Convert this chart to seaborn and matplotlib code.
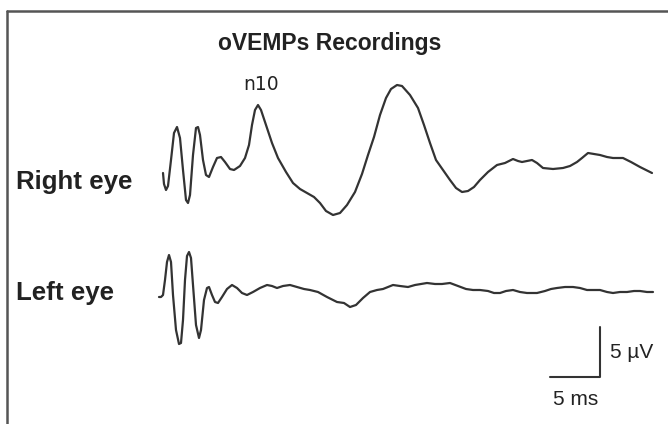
import numpy as np
import pandas as pd
import matplotlib
matplotlib.use("Agg")
import matplotlib.pyplot as plt
import seaborn as sns

# oVEMP traces: time in ms, amplitude in microvolts
right_t = [0.4, 0.5, 0.7, 0.9, 1.2, 1.5, 1.8, 2.1, 2.4, 2.7, 2.9, 3.1, 3.4, 3.7, 3.9, 4.1,
           4.4, 4.7, 5.0, 5.4, 5.8, 6.2, 6.6, 7.1, 7.5, 8.1, 8.6, 9.0, 9.3, 9.6, 9.9, 10.2,
           10.7, 11.3, 11.9, 12.7, 13.4, 14.1, 14.8, 15.5, 16.1, 16.7, 17.4, 18.1, 18.8, 19.6,
           20.3, 20.9, 21.5, 22.1, 22.7, 23.2, 23.8, 24.3, 25.1, 25.9, 26.5, 27.1, 27.7, 28.4,
           29.1, 29.7, 30.3, 30.9, 31.5, 32.1, 32.9, 33.8, 34.6, 35.4, 35.9, 36.3, 36.8, 37.3,
           37.8, 38.4, 39.4, 40.4, 41.1, 41.8, 42.3, 42.9, 43.5, 44.1, 44.8, 45.4, 46.4, 47.2,
           48.1, 48.7, 49.3]
right_v = [0, -1.1, -1.7, -1.3, 1.3, 4.0, 4.6, 3.5, 0.3, -2.7, -3.0, -2.2, 1.8, 4.5, 4.6, 3.8,
           1.3, -0.2, -0.4, 0.6, 1.5, 1.6, 1.1, 0.4, 0.3, 0.7, 1.5, 2.8, 4.8, 6.3, 6.8, 6.3,
           4.8, 3.0, 1.5, 0.1, -1.0, -1.6, -2.0, -2.4, -3.0, -3.8, -4.2, -4.0, -3.2, -1.9,
           -0.1, 1.8, 3.6, 5.8, 7.5, 8.4, 8.8, 8.7, 7.8, 6.5, 4.8, 3.0, 1.3, 0.3,
           -0.7, -1.5, -1.9, -1.8, -1.4, -0.7, 0.1, 0.8, 1.0, 1.4, 1.2, 1.1, 1.2, 1.3,
           1.0, 0.5, 0.4, 0.5, 0.7, 1.1, 1.5, 2.0, 1.9, 1.8, 1.6, 1.5, 1.5, 1.1,
           0.6, 0.3, 0]

left_t = [0, 0.2, 0.4, 0.6, 0.8, 1.0, 1.2, 1.4, 1.7, 2.0, 2.2, 2.4, 2.6, 2.8, 3.0, 3.2,
          3.4, 3.7, 4.0, 4.2, 4.5, 4.8, 5.0, 5.3, 5.6, 5.9, 6.3, 6.8, 7.3, 7.8, 8.3, 8.8,
          9.4, 10.1, 10.8, 11.3, 11.8, 12.4, 13.1, 13.8, 14.5, 15.1, 15.9, 16.8, 17.8, 18.5,
          19.1, 19.7, 20.4, 21.1, 21.8, 22.4, 22.9, 23.4, 24.1, 24.9, 25.6, 26.2, 26.8, 27.6,
          28.3, 29.1, 29.9, 30.7, 31.4, 32.1, 32.9, 33.5, 34.1, 34.7, 35.4, 36.1, 36.8, 37.8,
          38.6, 39.2, 39.8, 40.6, 41.4, 42.1, 42.8, 43.5, 44.1, 44.8, 45.4, 46.1, 46.8, 47.5,
          48.1, 48.8, 49.4]
left_v = [-0.5, -0.5, -0.3, 1.2, 3.0, 3.7, 3.0, -0.3, -3.8, -5.2, -5.1, -2.8, 1.2, 3.6, 4.0, 3.4,
          0.7, -3.3, -4.6, -3.8, -0.8, 0.4, 0.5, -0.3, -1.0, -1.1, -0.5, 0.3, 0.7, 0.4, -0.1, -0.3,
          0, 0.4, 0.7, 0.6, 0.4, 0.6, 0.7, 0.5, 0.3, 0.2, 0, -0.5, -1.0, -1.1,
          -1.5, -1.3, -0.6, 0, 0.2, 0.3, 0.5, 0.7, 0.6, 0.5, 0.7, 0.8, 0.9, 0.8,
          0.8, 0.9, 0.6, 0.3, 0.2, 0.2, 0.1, -0.1, -0.1, 0.1, 0.2, 0, -0.1, -0.1,
          0.1, 0.3, 0.4, 0.5, 0.5, 0.4, 0.2, 0.2, 0.2, 0, -0.1, 0, 0, 0.1,
          0.1, 0, 0]

eyes = ["Right eye", "Left eye"]
offsets = [11.9, 0]  # vertical stacking of the two traces, in uV

df = pd.concat([
    pd.DataFrame({"eye": eyes[0], "t": right_t, "v": np.array(right_v) + offsets[0]}),
    pd.DataFrame({"eye": eyes[1], "t": left_t, "v": np.array(left_v) + offsets[1]}),
])

sns.set_style("white")
plt.rcParams["font.family"] = ["Liberation Sans", "DejaVu Sans"]

fig = plt.figure(figsize=(6.68, 4.24), dpi=100)
ax = fig.add_axes([0, 0, 1, 1])
ink = "#333333"
txt = "#222222"

sns.lineplot(data=df, x="t", y="v", units="eye", estimator=None, sort=False,
             color=ink, linewidth=1.6, ax=ax, legend=False)

ax.set_xlim(-15.9, 50.9)
ax.set_ylim(-13.2, 29.2)
ax.axis("off")

# frame lines on the left and top
ax.axvline(-15.2, ymin=0, ymax=(424 - 11) / 424, color="#555555", lw=1.8)
ax.axhline(28.1, xmin=7 / 668, xmax=1, color="#555555", lw=1.8)

ax.text(17.1, 24.2, "oVEMPs Recordings", ha="center", va="baseline",
        fontsize=16.5, fontweight="bold", color=txt)
for name, base in zip(eyes, [10.3, -0.8]):
    ax.text(-14.3, base, name, ha="left", va="baseline", fontsize=18.6,
            fontweight="bold", color=txt)
ax.text(10.2, 20.2, "n10", ha="center", va="baseline", fontsize=13.5,
        family="DejaVu Sans", color=txt)

# scale bar: 5 ms by 5 uV
ax.plot([39.1, 44.1, 44.1], [-8.5, -8.5, -3.5], color=ink, lw=1.5)
ax.text(45.1, -6.6, "5 \u00b5V", ha="left", va="baseline", fontsize=15, color=txt)
ax.text(41.7, -11.3, "5 ms", ha="center", va="baseline", fontsize=15, color=txt)

fig.savefig("out.png", dpi=100)
